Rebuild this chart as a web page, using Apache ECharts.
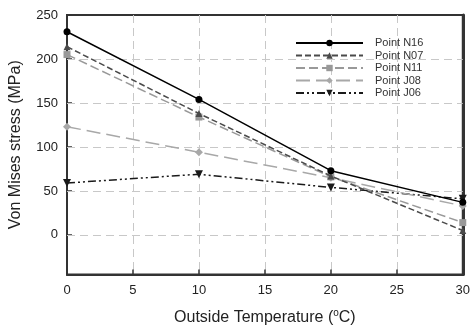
<!DOCTYPE html>
<html><head><meta charset="utf-8">
<script src="https://cdn.jsdelivr.net/npm/echarts@6/dist/echarts.min.js"></script>
<style>html,body{margin:0;padding:0;background:#fff}#c{width:473px;height:331px}</style>
</head><body><div id="c"></div>
<script>
const temps = [0, 10, 20, 30];
const seriesNames = ['Point N16', 'Point N07', 'Point N11', 'Point J08', 'Point J06'];
const n16 = [231, 154, 73, 37];
const n07 = [214, 138, 67, 5];
const n11 = [205, 134, 66, 14];
const j08 = [123, 94, 65, 33];
const j06 = [59, 69, 54, 41];
const yTicks = [0, 50, 100, 150, 200, 250];
const yGrid = [0, 50, 100, 150, 200];

const values = [n16, n07, n11, j08, j06];
const colors = ['#000000', '#4a4a4a', '#999999', '#a8a8a8', '#1a1a1a'];
const dashes = ['solid', [6, 3], [9, 4], [14, 6], [8, 3, 2, 3, 2, 3]];
const symbols = ['circle', 'triangle', 'rect', 'diamond', 'path://M0,0 L10,0 L5,9 Z'];
const sizes = [7, 7, 7, 8, 8];

const chart = echarts.init(document.getElementById('c'), null, {renderer: 'canvas'});
const series = seriesNames.map((n, i) => ({
  name: n, type: 'line',
  data: temps.map((t, k) => [t, values[i][k]]),
  symbol: symbols[i], symbolSize: sizes[i], showSymbol: true,
  lineStyle: {color: colors[i], width: 1.5, type: dashes[i]},
  itemStyle: {color: colors[i]},
  z: 10 - i, animation: false
}));
series[0].markLine = {
  silent: true, symbol: 'none', label: {show: false}, animation: false, z: 1,
  lineStyle: {color: '#c8c8c8', type: [8, 5], width: 1},
  data: yGrid.map(v => ({yAxis: v}))
};

chart.setOption({
  animation: false,
  grid: {left: 66, top: 15, right: 8, bottom: 50, show: true, borderColor: '#333', borderWidth: 2, backgroundColor: 'transparent'},
  legend: {
    left: 290, top: 32, orient: 'vertical', itemWidth: 67, itemHeight: 8, itemGap: 0.5,
    textStyle: {fontFamily: 'Liberation Sans', fontSize: 11, color: '#333', padding: [0, 0, 0, 7], lineHeight: 12},
    data: seriesNames
  },
  xAxis: {
    type: 'value', min: 0, max: 30, interval: 5,
    name: 'Outside Temperature ({sup|o}C)', nameLocation: 'middle', nameGap: 34,
    nameTextStyle: {fontFamily: 'Liberation Sans', fontSize: 16, color: '#222',
      rich: {sup: {fontSize: 10, verticalAlign: 'top', padding: [0, 0, 9, 0], fontFamily: 'Liberation Sans', color: '#222'}}},
    axisLine: {show: true, onZero: false, lineStyle: {color: '#333', width: 2}},
    axisTick: {show: true, inside: true, length: 5, lineStyle: {color: '#333', width: 1.5}},
    axisLabel: {fontFamily: 'Liberation Sans', fontSize: 13, color: '#222', margin: 9},
    splitLine: {show: true, lineStyle: {color: '#c8c8c8', type: [8, 5], width: 1}}
  },
  yAxis: [{
    type: 'value', min: -45, max: 250,
    name: 'Von Mises stress (MPa)', nameLocation: 'middle', nameGap: 43,
    nameTextStyle: {fontFamily: 'Liberation Sans', fontSize: 16, color: '#222'},
    axisLine: {show: true, onZero: false, lineStyle: {color: '#333', width: 2}},
    axisTick: {show: true, inside: true, length: 5, customValues: yTicks, lineStyle: {color: '#333', width: 1.5}},
    axisLabel: {fontFamily: 'Liberation Sans', fontSize: 13, color: '#222', margin: 9, customValues: yTicks},
    splitLine: {show: false}
  }, {
    type: 'value', min: -45, max: 250, position: 'right',
    axisLine: {show: true, onZero: false, lineStyle: {color: '#333', width: 3}},
    axisTick: {show: false}, axisLabel: {show: false}, splitLine: {show: false}
  }],
  series: series
});
</script></body></html>
